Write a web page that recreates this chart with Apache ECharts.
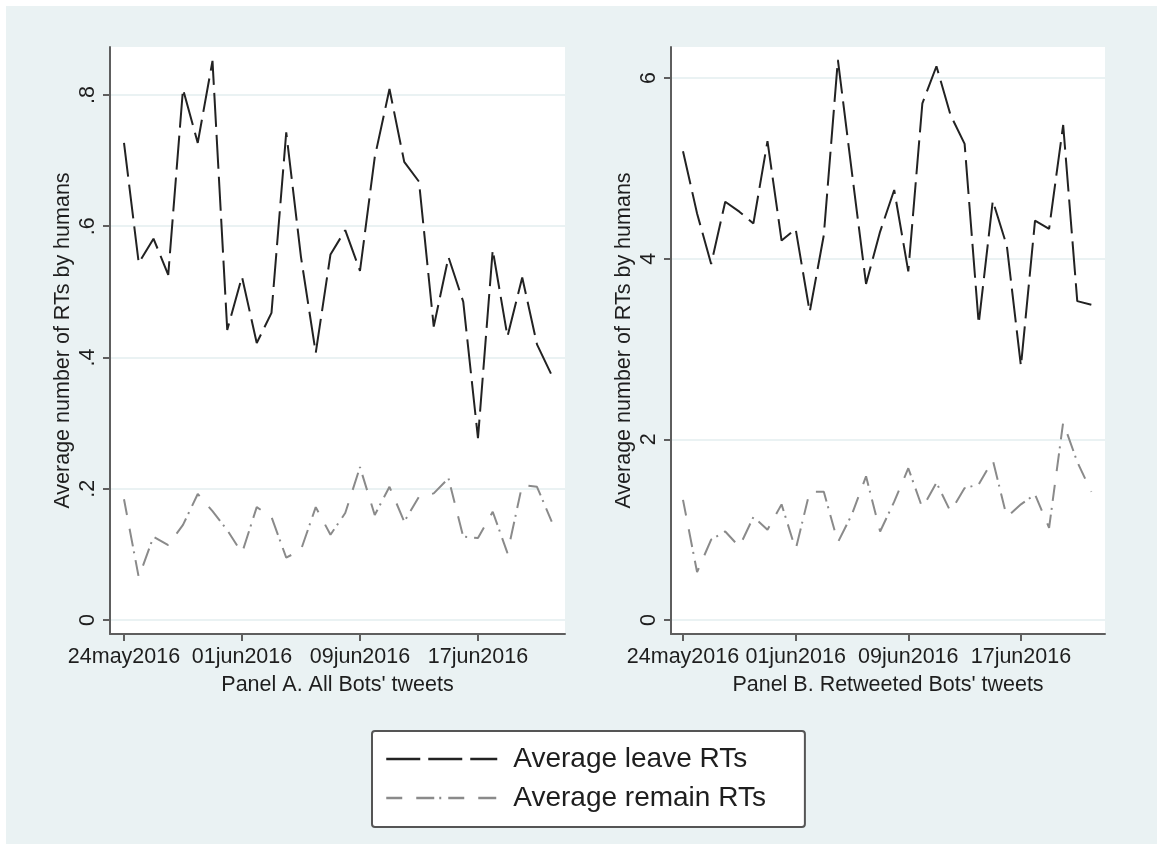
<!DOCTYPE html>
<html>
<head>
<meta charset="utf-8">
<script src="https://cdn.jsdelivr.net/npm/echarts@6/dist/echarts.min.js"></script>
<style>
  html, body { margin: 0; padding: 0; background: #fff; }
  #bg { position: absolute; left: 6px; top: 6px; width: 1151px; height: 838px; background: #eaf2f3; }
  #chart { position: absolute; left: 0; top: 0; width: 1163px; height: 850px; }
</style>
</head>
<body>
<div id="bg"></div>
<div id="chart"></div>
<script>
// one point per day, 24 May to 22 June 2016
const dates = [
  '24may2016', '25may2016', '26may2016', '27may2016', '28may2016', '29may2016', '30may2016', '31may2016',
  '01jun2016', '02jun2016', '03jun2016', '04jun2016', '05jun2016', '06jun2016', '07jun2016', '08jun2016',
  '09jun2016', '10jun2016', '11jun2016', '12jun2016', '13jun2016', '14jun2016', '15jun2016', '16jun2016',
  '17jun2016', '18jun2016', '19jun2016', '20jun2016', '21jun2016', '22jun2016'
];
const tickDays = [0, 8, 16, 24];

// Panel A. All Bots' tweets
const leaveAll = [
  0.727, 0.544, 0.581, 0.526, 0.809, 0.727, 0.852, 0.442, 0.523, 0.422,
  0.468, 0.743, 0.553, 0.407, 0.557, 0.594, 0.532, 0.705, 0.809, 0.698,
  0.668, 0.447, 0.553, 0.485, 0.277, 0.564, 0.432, 0.522, 0.420, 0.373
];
const remainAll = [
  0.184, 0.065, 0.127, 0.114, 0.145, 0.192, 0.166, 0.137, 0.102, 0.172,
  0.157, 0.095, 0.107, 0.172, 0.130, 0.163, 0.233, 0.160, 0.203, 0.150,
  0.188, 0.193, 0.216, 0.127, 0.125, 0.165, 0.102, 0.206, 0.203, 0.150
];

// Panel B. Retweeted Bots' tweets
const leaveRT = [
  5.19, 4.50, 3.94, 4.63, 4.52, 4.39, 5.30, 4.20, 4.33, 3.41,
  4.26, 6.20, 4.95, 3.72, 4.30, 4.76, 3.86, 5.72, 6.13, 5.59,
  5.27, 3.28, 4.64, 4.14, 2.81, 4.42, 4.33, 5.48, 3.53, 3.49
];
const remainRT = [
  1.33, 0.53, 0.89, 0.98, 0.81, 1.14, 1.00, 1.28, 0.78, 1.42,
  1.42, 0.86, 1.17, 1.59, 0.98, 1.31, 1.68, 1.24, 1.52, 1.20,
  1.46, 1.50, 1.77, 1.14, 1.28, 1.39, 1.02, 2.19, 1.75, 1.42
];

const ticksA = [0, 0.2, 0.4, 0.6, 0.8];
const ticksB = [0, 2, 4, 6];

const axisColor = '#5e5e5e';
const textColor = '#1e1e1e';
const fontFamily = '"Liberation Sans", Arial, sans-serif';
const yTitle = 'Average number of RTs by humans';

function xAxis(gridIndex, min, max, name) {
  return {
    type: 'value', gridIndex: gridIndex, min: min, max: max,
    name: name, nameLocation: 'middle', nameGap: 40,
    nameTextStyle: { fontSize: 21.5, color: textColor, fontFamily: fontFamily },
    axisLine: { show: true, onZero: false, lineStyle: { color: axisColor, width: 2 } },
    axisTick: { show: true, length: 7, customValues: tickDays, lineStyle: { color: axisColor, width: 2 } },
    axisLabel: {
      customValues: tickDays, margin: 12, fontSize: 21.5, color: textColor, fontFamily: fontFamily,
      formatter: function (v) { return dates[v]; }
    },
    splitLine: { show: false }
  };
}

function yAxis(gridIndex, min, max, ticks) {
  return {
    type: 'value', gridIndex: gridIndex, min: min, max: max,
    name: yTitle, nameLocation: 'middle', nameRotate: 90, nameGap: 36,
    nameTextStyle: { fontSize: 21.5, color: textColor, fontFamily: fontFamily },
    axisLine: { show: true, onZero: false, lineStyle: { color: axisColor, width: 2 } },
    axisTick: { show: true, length: 7, customValues: ticks, lineStyle: { color: axisColor, width: 2 } },
    axisLabel: {
      customValues: ticks, rotate: 90, margin: 11, fontSize: 21.5, color: textColor, fontFamily: fontFamily,
      formatter: function (v) { return v === 0 ? '0' : String(v).replace(/^0/, ''); }
    },
    splitLine: { show: true, lineStyle: { color: '#eaf2f3', width: 2 } }
  };
}

const leaveStyle = { color: '#222222', width: 2, type: [34, 8] };
const remainStyle = { color: '#8a8a8a', width: 2, type: [16, 14, 18, 5, 2, 7] };

function line(name, values, idx, style) {
  return {
    type: 'line', name: name, xAxisIndex: idx, yAxisIndex: idx,
    data: values.map(function (v, i) { return [i, v]; }),
    symbol: 'none', lineStyle: style, itemStyle: { color: style.color }
  };
}

const chart = echarts.init(document.getElementById('chart'));
chart.setOption({
  animation: false,
  backgroundColor: 'transparent',
  grid: [
    { left: 110, top: 47, width: 455, height: 587, show: true, backgroundColor: '#ffffff', borderWidth: 0 },
    { left: 671, top: 47, width: 434, height: 587, show: true, backgroundColor: '#ffffff', borderWidth: 0 }
  ],
  xAxis: [
    xAxis(0, -0.949, 29.9, "Panel A. All Bots' tweets"),
    xAxis(1, -0.852, 29.97, "Panel B. Retweeted Bots' tweets")
  ],
  yAxis: [
    yAxis(0, -0.0213, 0.8731, ticksA),
    yAxis(1, -0.155, 6.343, ticksB)
  ],
  legend: {
    left: 372, top: 731, orient: 'vertical', selectedMode: false,
    itemWidth: 111, itemHeight: 28, itemGap: 11,
    padding: [14, 39, 15, 13],
    backgroundColor: '#ffffff', borderColor: '#555555', borderWidth: 2, borderRadius: 3,
    itemStyle: { opacity: 0 },
    lineStyle: { width: 2.5 },
    textStyle: { fontSize: 28, color: textColor, fontFamily: fontFamily, padding: [0, 0, 0, 11] },
    data: ['Average leave RTs', 'Average remain RTs']
  },
  series: [
    line('Average leave RTs', leaveAll, 0, leaveStyle),
    line('Average remain RTs', remainAll, 0, remainStyle),
    line('Average leave RTs', leaveRT, 1, leaveStyle),
    line('Average remain RTs', remainRT, 1, remainStyle)
  ]
});
</script>
</body>
</html>
